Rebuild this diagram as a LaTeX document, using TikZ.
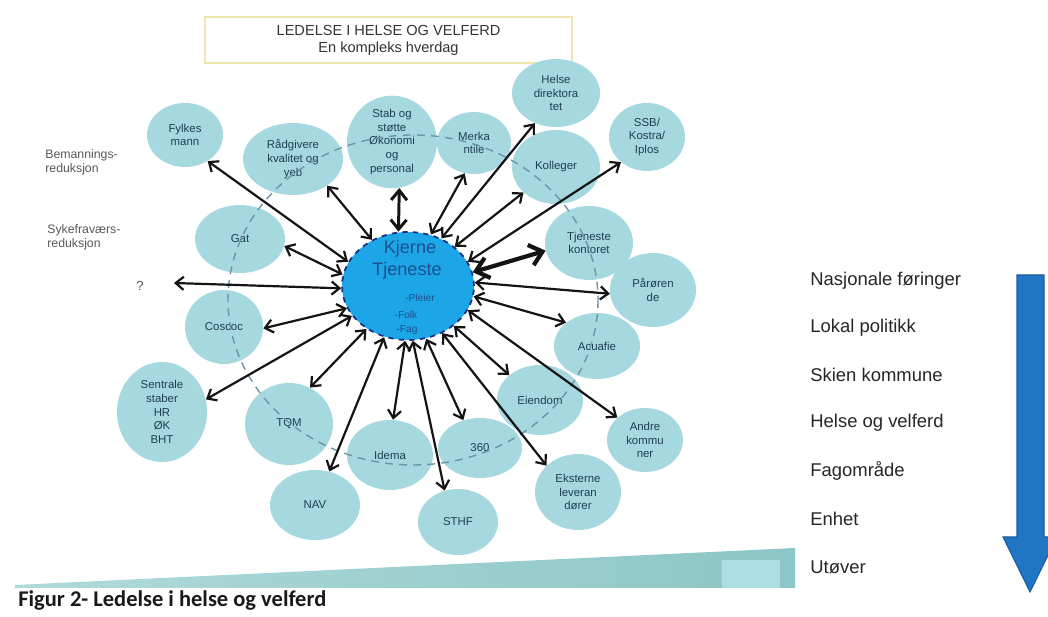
\documentclass[tikz,border=0pt]{standalone}
\usepackage{fontspec}
\setmainfont{Liberation Sans}
\newfontfamily\capfont{Carlito}
\usetikzlibrary{shapes.geometric,arrows.meta}

\definecolor{bubfill}{HTML}{A6D8E0}
\definecolor{bubtext}{HTML}{1F3F4F}
\definecolor{corefill}{HTML}{1CA6E8}
\definecolor{coreedge}{HTML}{1A2F80}
\definecolor{coretext}{HTML}{1C4F8C}
\definecolor{ringcol}{HTML}{6D95A5}
\definecolor{boxedge}{HTML}{EFE6B0}
\definecolor{wedgeA}{HTML}{B0DADA}
\definecolor{wedgeB}{HTML}{8CC6C6}
\definecolor{wedgeC}{HTML}{ACDFE4}
\definecolor{bluearrow}{HTML}{2176C4}
\definecolor{bluearrowedge}{HTML}{1A5C9E}

% one light-blue bubble: name, x, y, x radius, y radius, text (pixel units)
\newcommand\bubble[6]{%
  \node[bub,minimum width={#4*0.04cm},minimum height={#5*0.04cm}] (#1) at (#2,#3) {#6};}

\begin{document}
\begin{tikzpicture}[x=0.02cm,y=-0.02cm,
  bub/.style={ellipse,fill=bubfill,inner sep=0pt,align=center,text=bubtext,
    font=\fontsize{6.5}{7.8}\selectfont},
  core/.style={ellipse,fill=corefill,draw=coreedge,dashed,line width=1pt,
    minimum width=2.64cm,minimum height=2.16cm,inner sep=0pt},
  coreword/.style={text=coretext,font=\fontsize{10.3}{12}\selectfont,inner sep=0pt},
  coresub/.style={text=coretext,font=\fontsize{5.8}{7}\selectfont,inner sep=0pt},
  ring/.style={draw=ringcol,line width=0.8pt,dash pattern=on 4.5pt off 3.5pt},
  conn/.style={draw=black!92,line width=1.25pt,
    {Straight Barb[length=4.5pt,width=7.5pt]}-{Straight Barb[length=4.5pt,width=7.5pt]}},
  connmid/.style={draw=black!92,line width=1.7pt,
    {Straight Barb[length=5.5pt,width=9pt]}-{Straight Barb[length=5.5pt,width=9pt]}},
  connbig/.style={draw=black!92,line width=2.4pt,
    {Straight Barb[length=7pt,width=12pt]}-{Straight Barb[length=7pt,width=12pt]}},
  side/.style={text=black!65,font=\fontsize{7}{8}\selectfont,align=left,inner sep=0pt},
  level/.style={anchor=west,text=black!85,font=\fontsize{10.5}{12}\selectfont,inner sep=0pt},
  titlebox/.style={draw=boxedge,line width=1.2pt,fill=white,align=center,
    font=\fontsize{8.3}{9.6}\selectfont,text=black!80}
]
\useasboundingbox (0,0) rectangle (1048,617);
\fill[white] (0,0) rectangle (1048,617);

% heading box
\node[titlebox,minimum width={367*0.02cm},minimum height={46*0.02cm}] (title) at (388.5,40)
  {LEDELSE I HELSE OG VELFERD\\En kompleks hverdag};

% surrounding bubbles
\bubble{fylkes}{185}{135}{38}{32}{Fylkes\\mann}
\bubble{radg}{293}{159}{50}{36}{Rådgivere\\kvalitet og\\yeb}
\bubble{stab}{392}{142}{45}{36}{Stab og\\støtte\\Økonomi\\og\\personal}
\bubble{merka}{474}{143}{37}{31}{Merka\\ntile}
\bubble{helse}{556}{93}{44}{34}{Helse\\direktora\\tet}
\bubble{ssb}{647}{137}{38}{34}{SSB/\\Kostra/\\Iplos}
\bubble{kolleg}{556}{167}{44}{37}{Kolleger}
\bubble{tjen}{589}{243}{44}{37}{Tjeneste\\kontoret}
\bubble{paror}{653}{290}{43}{37}{Pårøren\\de}
\bubble{acua}{597}{346}{43}{33}{Acuafie}
\bubble{eiend}{540}{400}{43}{35}{Eiendom}
\bubble{andre}{645}{440}{38}{32}{Andre\\kommu\\ner}
\bubble{ekst}{578}{492}{43}{38}{Eksterne\\leveran\\dører}
\bubble{t360}{480}{448}{42}{30}{360}
\bubble{sthf}{458}{522}{40}{33}{STHF}
\bubble{idema}{390}{455}{43}{35}{Idema}
\bubble{nav}{315}{505}{45}{35}{NAV}
\bubble{tqm}{289}{424}{44}{41}{TQM}
\bubble{sentr}{162}{412}{45}{50}{Sentrale\\staber\\HR\\ØK\\BHT}
\bubble{coscoc}{224}{327}{39}{37}{Coscoc}
\bubble{gat}{240}{239}{45}{34}{Gat}

% dashed ring linking the bubbles
\draw[ring] (413,300) ellipse [x radius=185, y radius=165];

% core service
\node[core] (core) at (408,286) {};
\node[coreword] (kj) at (410,249) {Kjerne};
\node[coreword] (tj) at (407,271) {Tjeneste};
\node[coresub] (pl) at (420,298) {-Pleier};
\node[coresub] (fo) at (406,315) {-Folk};
\node[coresub] (fa) at (407,330) {-Fag};

% side notes
\node[side,anchor=west] (bem) at (45,162) {Bemannings-\\reduksjon};
\node[side,anchor=west] (syk) at (47,237) {Sykefraværs-\\reduksjon};
\node[side,font=\fontsize{7.5}{8}\selectfont] (q) at (140,286) {?};
\coordinate (qend) at (174,283);

% connectors from the core
\draw[conn] (core.158) -- (fylkes.-49);
\draw[conn] (core.128) -- (radg.-38);
\draw[connmid] (core.100) -- (stab.-81);
\draw[conn] (core.66) -- (merka.-107);
\draw[conn] (core.55) -- (helse.-125);
\draw[conn] (core.40) -- (kolleg.-142);
\draw[conn] (core.22) -- (ssb.-136);
\draw[connbig] (core.12) -- (tjen.190);
\draw[conn] (core.3) -- (paror.185);
\draw[conn] (core.-9) -- (acua.143);
\draw[conn] (core.-22) -- (andre.141);
\draw[conn] (core.-41) -- (eiend.141);
\draw[conn] (core.-54) -- (ekst.140);
\draw[conn] (core.-71) -- (t360.121);
\draw[conn] (core.-85) -- (sthf.113);
\draw[conn] (core.-93) -- (idema.85);
\draw[conn] (core.-115) -- (nav.67);
\draw[conn] (core.-134) -- (tqm.60);
\draw[conn] (core.-152) -- (sentr.16);
\draw[conn] (core.-160) -- (coscoc.-2);
\draw[conn] (core.182) -- (qend);
\draw[conn] (core.170) -- (gat.-9);

% rising wedge along the bottom
\shade[left color=wedgeA,right color=wedgeB] (15,585) -- (795,548) -- (795,588) -- (15,588) -- cycle;
\fill[wedgeC] (722,560) rectangle (780,588);

% caption
\node[anchor=base west,inner sep=0pt,font=\capfont\bfseries\fontsize{12.8}{14}\selectfont,text=black!90]
  (cap) at (18,607) {Figur 2- Ledelse i helse og velferd};

% levels, top to bottom
\node[level] (l1) at (810,281) {Nasjonale føringer};
\node[level] (l2) at (810,328) {Lokal politikk};
\node[level] (l3) at (810,375) {Skien kommune};
\node[level] (l4) at (810,423) {Helse og velferd};
\node[level] (l5) at (810,471) {Fagområde};
\node[level] (l6) at (810,519) {Enhet};
\node[level] (l7) at (810,567) {Utøver};

% downward arrow
\filldraw[fill=bluearrow,draw=bluearrowedge,line width=0.6pt]
  (1017,275) -- (1044,275) -- (1044,537) -- (1057,537) -- (1030,592)
  -- (1003,537) -- (1017,537) -- cycle;
\end{tikzpicture}
\end{document}
